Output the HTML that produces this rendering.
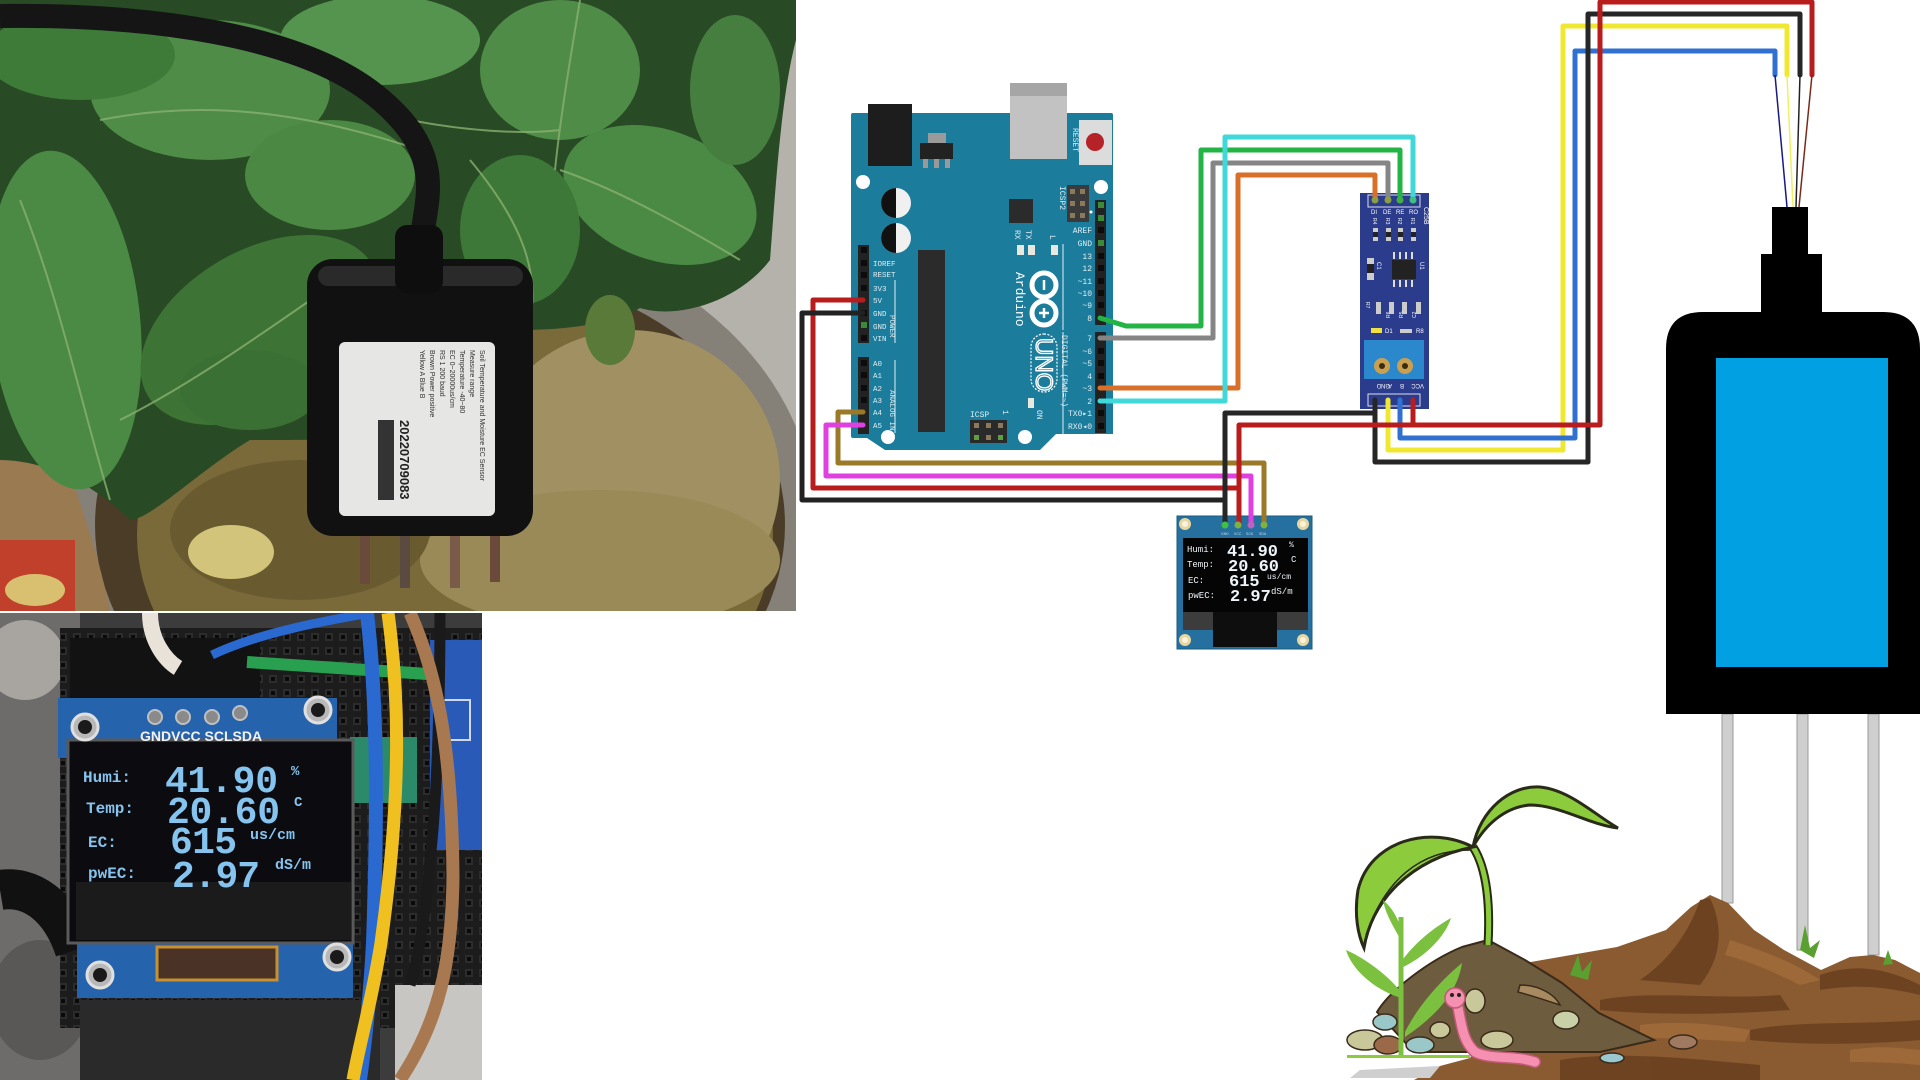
<!DOCTYPE html>
<html><head><meta charset="utf-8"><style>
html,body{margin:0;padding:0;background:#fff;}
body{width:1920px;height:1080px;overflow:hidden;}
svg{display:block;}
</style></head><body>
<svg width="1920" height="1080" viewBox="0 0 1920 1080" xmlns="http://www.w3.org/2000/svg">
<defs>
<clipPath id="c1"><rect x="0" y="0" width="796" height="611"/></clipPath>
<clipPath id="c2"><rect x="0" y="613" width="482" height="467"/></clipPath>
<pattern id="bb" x="0" y="0" width="14" height="14" patternUnits="userSpaceOnUse"><rect width="14" height="14" fill="#1c1c1c"/><rect x="3" y="3" width="8" height="8" fill="#2c2c2c"/><rect x="5" y="5" width="4" height="4" fill="#0a0a0a"/></pattern>
</defs>
<rect width="1920" height="1080" fill="#fff"/>

<!-- ============ TOP-LEFT PHOTO ============ -->
<g clip-path="url(#c1)">
<rect x="0" y="0" width="796" height="611" fill="#6a6450"/>
<rect x="700" y="40" width="96" height="571" fill="#b4b2aa"/>
<ellipse cx="430" cy="520" rx="385" ry="300" fill="#858078"/>
<ellipse cx="440" cy="525" rx="345" ry="262" fill="#4a3c26"/>
<ellipse cx="455" cy="535" rx="318" ry="235" fill="#7a6a3a"/>
<ellipse cx="630" cy="480" rx="150" ry="150" fill="#a09062"/>
<ellipse cx="600" cy="560" rx="180" ry="70" fill="#9a8a58"/>
<ellipse cx="300" cy="530" rx="130" ry="70" fill="#6a5a30"/>
<path d="M0,448 H60 C80,500 100,560 110,611 H0 Z" fill="#9a7a50"/>
<rect x="0" y="540" width="75" height="71" fill="#c0402c"/>
<ellipse cx="35" cy="590" rx="30" ry="16" fill="#d8c070"/>
<path d="M0,0 H796 V40 C780,100 775,200 770,260 C740,300 680,320 640,308 C600,330 540,330 508,330 L508,430 C400,440 300,440 250,440 C200,470 150,520 130,520 C90,480 40,460 0,460 Z" fill="#284a24"/>
<ellipse cx="65" cy="320" rx="75" ry="170" fill="#4a8a44" transform="rotate(-6 65 320)"/>
<ellipse cx="260" cy="330" rx="130" ry="80" fill="#3d7436" transform="rotate(-30 260 330)"/>
<ellipse cx="210" cy="90" rx="120" ry="70" fill="#4e8c48"/>
<ellipse cx="330" cy="175" rx="85" ry="55" fill="#4a8844"/>
<ellipse cx="380" cy="40" rx="100" ry="45" fill="#55944e"/>
<ellipse cx="560" cy="70" rx="80" ry="70" fill="#4e8c48"/>
<ellipse cx="660" cy="195" rx="100" ry="65" fill="#4a8a44" transform="rotate(20 660 195)"/>
<ellipse cx="80" cy="55" rx="95" ry="45" fill="#3e7a38"/>
<ellipse cx="520" cy="230" rx="60" ry="75" fill="#3d7838"/>
<ellipse cx="250" cy="390" rx="70" ry="40" fill="#3a7034"/>
<ellipse cx="735" cy="90" rx="45" ry="75" fill="#467e40"/>
<ellipse cx="610" cy="330" rx="25" ry="35" fill="#5a7a3a"/>
<g stroke="#8ab070" stroke-width="2" fill="none" opacity="0.8">
<path d="M20,200 C60,300 80,400 110,500"/><path d="M120,420 C200,380 280,320 340,280"/>
<path d="M100,120 C200,100 300,110 420,150"/><path d="M410,120 C460,130 520,135 560,130"/>
<path d="M470,160 C520,220 540,270 530,320"/><path d="M560,170 C620,190 690,230 740,260"/>
<path d="M580,0 C570,60 560,120 555,170"/>
</g>
<ellipse cx="231" cy="552" rx="43" ry="27" fill="#d2c47a"/>
<!-- prongs -->
<rect x="360" y="526" width="10" height="58" fill="#6a4a3a"/>
<rect x="400" y="526" width="10" height="62" fill="#5a4a40"/>
<rect x="450" y="526" width="10" height="62" fill="#7a5a48"/>
<rect x="490" y="526" width="10" height="56" fill="#6a4a3a"/>
<!-- sensor box -->
<rect x="307" y="259" width="226" height="277" rx="26" fill="#111"/>
<rect x="318" y="266" width="205" height="20" rx="10" fill="#2a2a2a"/>
<rect x="339" y="342" width="156" height="174" rx="6" fill="#e6e6e4"/>
<g font-family="Liberation Sans, sans-serif" font-size="7" fill="#333">
<text transform="translate(480,350) rotate(90)">Soil Temperature and Moisture EC Sensor</text>
<text transform="translate(470,350) rotate(90)">Measure range</text>
<text transform="translate(460,350) rotate(90)">Temperature -40~80</text>
<text transform="translate(450,350) rotate(90)">EC 0~20000us/cm</text>
<text transform="translate(440,350) rotate(90)">RS 1 200 baud</text>
<text transform="translate(430,350) rotate(90)">Brown Power positive</text>
<text transform="translate(420,350) rotate(90)">Yellow A Blue B</text>
</g>
<rect x="378" y="420" width="16" height="80" fill="#333"/>
<text transform="translate(400,420) rotate(90)" font-family="Liberation Sans, sans-serif" font-size="13" font-weight="bold" fill="#222">20220709083</text>
<!-- cable -->
<path d="M0,16 C150,14 300,35 375,95 S425,200 420,250" fill="none" stroke="#151515" stroke-width="24"/>
<rect x="395" y="225" width="48" height="68" rx="12" fill="#0e0e0e"/>
</g>

<!-- ============ BOTTOM-LEFT PHOTO ============ -->
<g clip-path="url(#c2)">
<rect x="0" y="613" width="482" height="467" fill="#3c3c3c"/>
<rect x="0" y="613" width="80" height="467" fill="#6e6c6a"/>
<ellipse cx="25" cy="660" rx="40" ry="40" fill="#a8a4a0"/>
<ellipse cx="40" cy="1000" rx="50" ry="60" fill="#5a5856"/>
<rect x="60" y="628" width="422" height="400" fill="url(#bb)"/>
<rect x="70" y="638" width="190" height="62" fill="#121212"/>
<rect x="395" y="985" width="87" height="95" fill="#c8c6c2"/>
<rect x="80" y="1000" width="300" height="80" fill="#2a2a2a"/>
<path d="M0,890 C30,885 60,905 75,950" fill="none" stroke="#111" stroke-width="40"/>
<path d="M150,613 C150,640 165,660 178,668" fill="none" stroke="#e8e2d8" stroke-width="16"/>
<path d="M212,655 C260,632 330,620 370,613" fill="none" stroke="#2a6ad0" stroke-width="9"/>
<path d="M247,662 C300,665 400,672 482,678" fill="none" stroke="#28a050" stroke-width="12"/>
<rect x="430" y="640" width="52" height="210" fill="#2a5ab8"/>
<rect x="440" y="700" width="30" height="40" fill="none" stroke="#cfd8f0" stroke-width="2"/>
<rect x="350" y="737" width="67" height="66" fill="#2a8a6a"/>
<!-- OLED board -->
<rect x="58" y="698" width="279" height="60" fill="#2563ad"/>
<rect x="77" y="930" width="276" height="68" fill="#2563ad"/>
<rect x="68" y="740" width="285" height="203" fill="#0c0c10" stroke="#5a5a5a" stroke-width="3"/>
<rect x="76" y="882" width="275" height="58" fill="#1b1b1b"/>
<rect x="157" y="947" width="120" height="33" fill="#4a3226" stroke="#c89030" stroke-width="3"/>
<g fill="#b8b8b8" stroke="#e0e0e0" stroke-width="3">
<circle cx="85" cy="727" r="13"/><circle cx="318" cy="710" r="13"/><circle cx="100" cy="975" r="13"/><circle cx="337" cy="957" r="13"/>
</g>
<g fill="#1a1a1a"><circle cx="85" cy="727" r="7"/><circle cx="318" cy="710" r="7"/><circle cx="100" cy="975" r="7"/><circle cx="337" cy="957" r="7"/></g>
<g fill="#8a8a8a" stroke="#c0c0c0" stroke-width="2"><circle cx="155" cy="717" r="7"/><circle cx="183" cy="717" r="7"/><circle cx="212" cy="717" r="7"/><circle cx="240" cy="713" r="7"/></g>
<text x="140" y="741" font-family="Liberation Sans, sans-serif" font-size="14" font-weight="bold" fill="#f2f2f2">GNDVCC SCLSDA</text>
<g font-family="Liberation Mono, monospace" font-weight="bold" fill="#86c4f0">
<text x="83" y="782" font-size="16">Humi:</text>
<text x="165" y="792" font-size="38" textLength="113">41.90</text>
<text x="291" y="775" font-size="14">%</text>
<text x="86" y="813" font-size="16">Temp:</text>
<text x="167" y="823" font-size="38" textLength="113">20.60</text>
<text x="294" y="806" font-size="14">C</text>
<text x="88" y="847" font-size="16">EC:</text>
<text x="170" y="853" font-size="38" textLength="67">615</text>
<text x="250" y="839" font-size="15">us/cm</text>
<text x="88" y="878" font-size="16">pwEC:</text>
<text x="172" y="887" font-size="38" textLength="88">2.97</text>
<text x="275" y="869" font-size="15">dS/m</text>
</g>
<path d="M367,613 C377,700 378,800 373,943 C370,1000 364,1050 360,1080" fill="none" stroke="#2a6ad0" stroke-width="14"/>
<path d="M388,613 C400,700 401,800 381,943 C372,1000 358,1050 353,1080" fill="none" stroke="#f0c020" stroke-width="13"/>
<path d="M440,613 C440,700 437,800 430,860 C425,920 418,960 410,985" fill="none" stroke="#1a1a1a" stroke-width="11"/>
<path d="M410,613 C440,680 452,760 453,877 C452,960 440,1020 400,1080" fill="none" stroke="#a87850" stroke-width="13"/>
</g>

<!-- ============ ARDUINO UNO ============ -->
<g>
<rect x="1004" y="126" width="69" height="8" fill="#b4b4b4"/>
<path d="M853,113 H1111 Q1113,113 1113,115 V434 H1056 L1040,450 H885 L867,438 H853 Q851,438 851,436 V115 Q851,113 853,113 Z" fill="#1c7c9c"/>
<rect x="868" y="104" width="44" height="62" fill="#1d1d1d"/>
<rect x="1010" y="83" width="57" height="76" fill="#c2c2c2"/>
<rect x="1010" y="83" width="57" height="13" fill="#a6a6a6"/>
<rect x="928" y="133" width="18" height="10" fill="#9a9a9a"/>
<rect x="920" y="143" width="33" height="16" fill="#222"/>
<rect x="923" y="159" width="5" height="9" fill="#999"/><rect x="934" y="159" width="5" height="9" fill="#999"/><rect x="945" y="159" width="5" height="9" fill="#999"/>
<rect x="1079" y="120" width="33" height="45" fill="#dcdcdc"/>
<circle cx="1095" cy="142" r="9" fill="#b52228"/>
<text transform="translate(1073,128) rotate(90)" font-family="Liberation Mono, monospace" font-size="8" fill="#e0eef2">RESET</text>
<g fill="#fff"><circle cx="863" cy="182" r="7"/><circle cx="1101" cy="187" r="7"/><circle cx="888" cy="437" r="7"/><circle cx="1025" cy="437" r="7"/></g>
<circle cx="896" cy="203" r="15" fill="#f0f0f0"/><path d="M896,188 A15,15 0 0,0 896,218 Z" fill="#111"/>
<circle cx="896" cy="238" r="15" fill="#f0f0f0"/><path d="M896,223 A15,15 0 0,0 896,253 Z" fill="#111"/>
<rect x="918" y="250" width="27" height="182" fill="#2b2b2b"/>
<rect x="1009" y="199" width="24" height="24" fill="#2b2b2b"/>
<rect x="1067" y="185" width="22" height="37" fill="#3a3a3a"/>
<g fill="#8a7a5a"><rect x="1070" y="189" width="5" height="5"/><rect x="1080" y="189" width="5" height="5"/><rect x="1070" y="201" width="5" height="5"/><rect x="1080" y="201" width="5" height="5"/><rect x="1070" y="213" width="5" height="5"/><rect x="1080" y="213" width="5" height="5"/></g>
<text transform="translate(1060,186) rotate(90)" font-family="Liberation Mono, monospace" font-size="8" fill="#e0eef2">ICSP2</text>
<rect x="1017" y="245" width="7" height="10" fill="#e8e8e0"/><rect x="1028" y="245" width="7" height="10" fill="#e8e8e0"/><rect x="1051" y="245" width="7" height="10" fill="#e8e8e0"/>
<g font-family="Liberation Mono, monospace" font-size="8" fill="#e0eef2">
<text transform="translate(1015,230) rotate(90)">RX</text>
<text transform="translate(1026,230) rotate(90)">TX</text>
<text transform="translate(1050,235) rotate(90)">L</text>
</g>
<line x1="1063" y1="244" x2="1063" y2="330" stroke="#e0eef2" stroke-width="1"/>
<circle cx="1044" cy="285" r="12" fill="none" stroke="#fff" stroke-width="5"/>
<circle cx="1044" cy="313" r="12" fill="none" stroke="#fff" stroke-width="5"/>
<line x1="1044" y1="280" x2="1044" y2="290" stroke="#fff" stroke-width="2.5"/>
<line x1="1039" y1="313" x2="1049" y2="313" stroke="#fff" stroke-width="2.5"/><line x1="1044" y1="308" x2="1044" y2="318" stroke="#fff" stroke-width="2.5"/>
<text transform="translate(1016,272) rotate(90)" font-family="Liberation Mono, monospace" font-size="13" fill="#fff">Arduino</text>
<rect x="1031" y="334" width="26" height="58" rx="13" fill="none" stroke="#fff" stroke-width="1.2" stroke-dasharray="2 1.5"/>
<text transform="translate(1036,338) rotate(90)" font-family="Liberation Sans, sans-serif" font-size="24" fill="none" stroke="#fff" stroke-width="1.4">UNO</text>
<text transform="translate(1062,335) rotate(90)" font-family="Liberation Mono, monospace" font-size="8" fill="#e0eef2">DIGITAL (PWM=~)</text>
<line x1="1063" y1="332" x2="1063" y2="435" stroke="#e0eef2" stroke-width="1"/>
<rect x="1028" y="398" width="6" height="10" fill="#e8e8e0"/>
<text transform="translate(1037,410) rotate(90)" font-family="Liberation Mono, monospace" font-size="8" fill="#e0eef2">ON</text>
<rect x="970" y="420" width="37" height="23" fill="#2a2a2a"/>
<g fill="#8a7a5a"><rect x="974" y="423" width="5" height="5"/><rect x="986" y="423" width="5" height="5"/><rect x="998" y="423" width="5" height="5"/><rect x="986" y="435" width="5" height="5"/></g>
<g fill="#5aa040"><rect x="974" y="435" width="5" height="5"/><rect x="998" y="435" width="5" height="5"/></g>
<text x="970" y="417" font-family="Liberation Mono, monospace" font-size="8" fill="#e0eef2">ICSP</text>
<text transform="translate(1003,410) rotate(90)" font-family="Liberation Mono, monospace" font-size="8" fill="#e0eef2">1</text>
<!-- left headers -->
<rect x="858" y="245" width="11" height="98" fill="#222"/>
<rect x="858" y="357" width="11" height="77" fill="#222"/>
<g fill="#0c0c0c">
<rect x="861" y="247" width="6" height="6"/><rect x="861" y="260" width="6" height="6"/><rect x="861" y="272" width="6" height="6"/><rect x="861" y="285" width="6" height="6"/><rect x="861" y="310" width="6" height="6"/><rect x="861" y="335" width="6" height="6"/>
<rect x="861" y="360" width="6" height="6"/><rect x="861" y="372" width="6" height="6"/><rect x="861" y="385" width="6" height="6"/><rect x="861" y="397" width="6" height="6"/>
</g>
<rect x="861" y="322" width="6" height="6" fill="#3a8a3a"/>
<g font-family="Liberation Mono, monospace" font-size="7.5" fill="#e0eef2">
<text x="873" y="266">IOREF</text><text x="873" y="277">RESET</text><text x="873" y="291">3V3</text><text x="873" y="303">5V</text><text x="873" y="316">GND</text><text x="873" y="329">GND</text><text x="873" y="341">VIN</text>
<text x="873" y="366">A0</text><text x="873" y="378">A1</text><text x="873" y="391">A2</text><text x="873" y="403">A3</text><text x="873" y="415">A4</text><text x="873" y="428">A5</text>
<text transform="translate(890,315) rotate(90)">POWER</text>
<text transform="translate(890,390) rotate(90)">ANALOG IN</text>
</g>
<line x1="895" y1="280" x2="895" y2="343" stroke="#e0eef2" stroke-width="1"/>
<line x1="895" y1="360" x2="895" y2="433" stroke="#e0eef2" stroke-width="1"/>
<!-- right headers -->
<rect x="1095" y="200" width="11" height="125" fill="#222"/>
<rect x="1095" y="332" width="11" height="101" fill="#222"/>
<g fill="#0c0c0c">
<rect x="1098" y="227" width="6" height="6"/><rect x="1098" y="253" width="6" height="6"/><rect x="1098" y="265" width="6" height="6"/><rect x="1098" y="278" width="6" height="6"/><rect x="1098" y="290" width="6" height="6"/><rect x="1098" y="302" width="6" height="6"/>
<rect x="1098" y="348" width="6" height="6"/><rect x="1098" y="360" width="6" height="6"/><rect x="1098" y="373" width="6" height="6"/><rect x="1098" y="410" width="6" height="6"/><rect x="1098" y="423" width="6" height="6"/>
</g>
<g fill="#3a8a3a"><rect x="1098" y="202" width="6" height="6"/><rect x="1098" y="215" width="6" height="6"/><rect x="1098" y="240" width="6" height="6"/></g>
<circle cx="1091" cy="212" r="1.5" fill="#fff"/>
<g font-family="Liberation Mono, monospace" font-size="8" fill="#e0eef2" text-anchor="end">
<text x="1092" y="233">AREF</text><text x="1092" y="246">GND</text><text x="1092" y="259">13</text><text x="1092" y="271">12</text><text x="1092" y="284">~11</text><text x="1092" y="296">~10</text><text x="1092" y="308">~9</text><text x="1092" y="321">8</text>
<text x="1092" y="341">7</text><text x="1092" y="354">~6</text><text x="1092" y="366">~5</text><text x="1092" y="379">4</text><text x="1092" y="391">~3</text><text x="1092" y="404">2</text><text x="1092" y="416">TX0▸1</text><text x="1092" y="429">RX0◂0</text>
</g>
</g>

<!-- ============ RS485 MODULE ============ -->
<g>
<rect x="1360" y="193" width="69" height="216" fill="#2b3c8c"/>
<rect x="1368" y="195" width="52" height="12" fill="none" stroke="#dde" stroke-width="1"/>
<rect x="1368" y="394" width="52" height="12" fill="none" stroke="#dde" stroke-width="1"/>
<g font-family="Liberation Sans, sans-serif" font-size="6" fill="#fff">
<text x="1371" y="214">DI</text><text x="1383" y="214">DE</text><text x="1396" y="214">RE</text><text x="1409" y="214">RO</text>
<text transform="translate(1424,207) rotate(90)" font-size="7">C25B</text>
<text transform="translate(1373,218) rotate(90)" font-size="5">R4</text><text transform="translate(1386,218) rotate(90)" font-size="5">R3</text><text transform="translate(1398,218) rotate(90)" font-size="5">R2</text><text transform="translate(1411,218) rotate(90)" font-size="5">R1</text>
<text transform="translate(1377,262) rotate(90)" font-size="6">C1</text>
<text transform="translate(1420,262) rotate(90)" font-size="6">U1</text>
<text transform="translate(1366,302) rotate(90)" font-size="5">R7</text>
<text transform="translate(1390,318) rotate(-90)" font-size="5">R6</text><text transform="translate(1403,318) rotate(-90)" font-size="5">R5</text><text transform="translate(1416,318) rotate(-90)" font-size="5">C2</text>
<text x="1385" y="333" font-size="6">D1</text><text x="1416" y="333" font-size="6">R8</text>
<text transform="translate(1390,384) rotate(180)" font-size="6">GND</text><text transform="translate(1392,384) rotate(180)" font-size="6">A</text><text transform="translate(1404,384) rotate(180)" font-size="6">B</text><text transform="translate(1424,384) rotate(180)" font-size="6">VCC</text>
</g>
<g fill="#ccc"><rect x="1373" y="228" width="5" height="13"/><rect x="1386" y="228" width="5" height="13"/><rect x="1398" y="228" width="5" height="13"/><rect x="1411" y="228" width="5" height="13"/>
<rect x="1376" y="302" width="5" height="12"/><rect x="1389" y="302" width="5" height="12"/><rect x="1402" y="302" width="5" height="12"/><rect x="1416" y="302" width="5" height="12"/>
<rect x="1367" y="258" width="7" height="22"/><rect x="1400" y="329" width="12" height="4"/></g>
<g fill="#222"><rect x="1373" y="232" width="5" height="5"/><rect x="1386" y="232" width="5" height="5"/><rect x="1398" y="232" width="5" height="5"/><rect x="1411" y="232" width="5" height="5"/><rect x="1367" y="264" width="7" height="9"/></g>
<rect x="1392" y="260" width="24" height="19" fill="#222"/>
<g fill="#ddd"><rect x="1393" y="252" width="2" height="7"/><rect x="1399" y="252" width="2" height="7"/><rect x="1405" y="252" width="2" height="7"/><rect x="1411" y="252" width="2" height="7"/><rect x="1393" y="280" width="2" height="7"/><rect x="1399" y="280" width="2" height="7"/><rect x="1405" y="280" width="2" height="7"/><rect x="1411" y="280" width="2" height="7"/></g>
<rect x="1371" y="328" width="11" height="5" fill="#f0e040"/>
<rect x="1364" y="340" width="60" height="39" fill="#2b88cc"/>
<circle cx="1382" cy="366" r="8" fill="#c8a050"/><circle cx="1405" cy="366" r="8" fill="#c8a050"/>
<circle cx="1382" cy="366" r="3" fill="#3a2a10"/><circle cx="1405" cy="366" r="3" fill="#3a2a10"/>
</g>

<!-- ============ OLED (diagram) ============ -->
<g>
<rect x="1177" y="516" width="135" height="133" fill="#2670a0" stroke="#1a5a80" stroke-width="1"/>
<rect x="1183" y="538" width="125" height="74" fill="#050505"/>
<rect x="1183" y="612" width="125" height="18" fill="#3c3c3c"/>
<rect x="1213" y="612" width="64" height="35" fill="#0e0e0e"/>
<g fill="#e8d6a0"><circle cx="1185" cy="524" r="6"/><circle cx="1303" cy="524" r="6"/><circle cx="1185" cy="640" r="6"/><circle cx="1303" cy="640" r="6"/></g>
<g fill="#faf2dc"><circle cx="1185" cy="524" r="3"/><circle cx="1303" cy="524" r="3"/><circle cx="1185" cy="640" r="3"/><circle cx="1303" cy="640" r="3"/></g>
<g font-family="Liberation Sans, sans-serif" font-size="3.5" fill="#cde"><text x="1221" y="535">GND</text><text x="1234" y="535">VCC</text><text x="1246" y="535">SCK</text><text x="1259" y="535">SDA</text></g>
<g font-family="Liberation Mono, monospace" fill="#eef4fa">
<text x="1187" y="552" font-size="9">Humi:</text>
<text x="1227" y="556" font-size="17" font-weight="bold">41.90</text>
<text x="1289" y="547" font-size="8">%</text>
<text x="1187" y="567" font-size="9">Temp:</text>
<text x="1228" y="571" font-size="17" font-weight="bold">20.60</text>
<text x="1291" y="562" font-size="9">C</text>
<text x="1188" y="583" font-size="9">EC:</text>
<text x="1229" y="586" font-size="17" font-weight="bold">615</text>
<text x="1267" y="579" font-size="8">us/cm</text>
<text x="1188" y="598" font-size="9">pwEC:</text>
<text x="1230" y="601" font-size="17" font-weight="bold">2.97</text>
<text x="1271" y="594" font-size="9">dS/m</text>
</g>
</g>

<!-- ============ WIRES ============ -->
<g fill="none" stroke-linejoin="round" stroke-linecap="round" stroke-width="5">
<path d="M863,412 H838 V463 H1264 V525" stroke="#9a7a28"/>
<path d="M863,425 H826 V476 H1251 V525" stroke="#e040e0"/>
<path d="M863,300 H813 V488 H1239" stroke="#b81c1c"/>
<path d="M863,313 H802 V500 H1225" stroke="#222"/>
<path d="M1100,318 L1126,326 H1201 V150 H1400 V200" stroke="#22b444"/>
<path d="M1100,338 H1213 V163 H1388 V200" stroke="#858585"/>
<path d="M1100,388 H1238 V175 H1375 V200" stroke="#d8702a"/>
<path d="M1100,401 H1225 V137 H1413 V200" stroke="#40d8d8"/>
<path d="M1388,400 V450 H1563 V26 H1787 V75" stroke="#f0e830"/>
<path d="M1400,400 V438 H1575 V51 H1775 V75" stroke="#3070d0"/>
<path d="M1225,525 V413 H1375 V400 M1375,413 V462 H1588 V14 H1800 V75" stroke="#262626"/>
<path d="M1239,525 V425 H1600 V2 H1812 V75 M1413,400 V425" stroke="#b81c1c"/>
</g>
<g>
<circle cx="1375" cy="200" r="3.5" fill="#8aa040"/><circle cx="1388" cy="200" r="3.5" fill="#8aa040"/><circle cx="1400" cy="200" r="3.5" fill="#40b040"/><circle cx="1413" cy="200" r="3.5" fill="#40c080"/>
<circle cx="1225" cy="525" r="3.5" fill="#40c040"/><circle cx="1238" cy="525" r="3.5" fill="#80b040"/><circle cx="1251" cy="525" r="3.5" fill="#c060c0"/><circle cx="1264" cy="525" r="3.5" fill="#80b040"/>
</g>
<g fill="none" stroke-width="1.5">
<path d="M1775,75 L1787,207" stroke="#1a1a80"/>
<path d="M1787,75 L1793,207" stroke="#f0f060"/>
<path d="M1800,75 L1796,207" stroke="#222"/>
<path d="M1812,75 L1799,207" stroke="#7a2a1a"/>
</g>

<!-- ============ SENSOR ============ -->
<rect x="1722" y="714" width="11" height="189" fill="#cfcfcf" stroke="#9a9a9a" stroke-width="1"/>
<rect x="1797" y="714" width="11" height="236" fill="#cfcfcf" stroke="#9a9a9a" stroke-width="1"/>
<rect x="1868" y="714" width="11" height="241" fill="#cfcfcf" stroke="#9a9a9a" stroke-width="1"/>
<rect x="1772" y="207" width="36" height="48" fill="#000"/>
<rect x="1761" y="254" width="61" height="60" fill="#000"/>
<path d="M1666,714 V349 Q1666,312 1703,312 H1883 Q1920,312 1920,349 V714 Z" fill="#000"/>
<rect x="1716" y="358" width="172" height="309" fill="#00a0e2"/>

<!-- ============ PLANT / SOIL ============ -->
<path d="M1414,1080 L1440,1066 L1470,1058 L1525,963 L1617,947 L1666,930 L1691,907 L1710,895 L1728,903 L1754,930 L1784,950 L1821,970 L1850,957 L1873,955 L1895,960 L1920,973 V1080 Z" fill="#8a5a30"/>
<g fill="#6a4020" opacity="0.9">
<path d="M1700,900 C1690,930 1670,960 1640,980 L1700,985 C1720,960 1725,930 1710,898 Z"/>
<path d="M1600,1000 C1650,990 1720,1000 1780,995 L1790,1010 C1720,1015 1650,1015 1600,1010 Z"/>
<path d="M1750,1030 C1800,1020 1870,1025 1920,1020 V1040 C1860,1045 1800,1045 1750,1040 Z"/>
<path d="M1820,975 C1850,965 1880,965 1920,985 V995 C1880,985 1850,985 1820,990 Z"/>
<path d="M1560,1060 C1620,1050 1700,1060 1760,1065 L1760,1080 H1560 Z"/>
</g>
<g fill="#a06a3a" opacity="0.9">
<path d="M1730,940 C1760,950 1790,960 1820,980 L1800,985 C1770,970 1745,960 1725,955 Z"/>
<path d="M1640,1025 C1680,1020 1720,1025 1750,1030 L1745,1042 C1710,1040 1680,1038 1640,1038 Z"/>
<path d="M1850,1050 C1880,1045 1900,1048 1920,1050 V1065 C1900,1063 1880,1062 1850,1062 Z"/>
</g>
<g fill="#5aa030"><path d="M1570,975 L1578,955 L1582,972 L1592,960 L1588,980 Z"/><path d="M1800,950 L1805,925 L1810,948 L1820,940 L1814,958 Z"/><path d="M1883,965 L1888,950 L1893,964 Z"/></g>
<path d="M1377,1012 C1390,990 1430,960 1462,947 L1488,940 L1525,960 L1562,983 L1599,1013 L1654,1040 L1600,1052 L1414,1052 Z" fill="#6e5c3e" stroke="#3a2a1a" stroke-width="2"/>
<path d="M1520,985 C1540,985 1555,995 1560,1005 C1545,1000 1530,995 1518,992 Z" fill="#a88a60" stroke="#3a2a1a" stroke-width="1.5"/>
<g stroke="#3a2a1a" stroke-width="1.5">
<ellipse cx="1365" cy="1040" rx="18" ry="10" fill="#c8c89a"/>
<ellipse cx="1385" cy="1022" rx="12" ry="8" fill="#9ac8c8"/>
<ellipse cx="1388" cy="1045" rx="14" ry="9" fill="#9a6a48"/>
<ellipse cx="1420" cy="1045" rx="14" ry="8" fill="#9ac8c8"/>
<ellipse cx="1440" cy="1030" rx="10" ry="8" fill="#c8c89a"/>
<ellipse cx="1475" cy="1001" rx="10" ry="12" fill="#c8c89a"/>
<ellipse cx="1566" cy="1020" rx="13" ry="9" fill="#c8d0a8"/>
<ellipse cx="1683" cy="1042" rx="14" ry="7" fill="#a07a60"/>
<ellipse cx="1612" cy="1058" rx="12" ry="5" fill="#9ac8d0"/>
<ellipse cx="1497" cy="1040" rx="16" ry="9" fill="#c8c89a"/>
</g>
<rect x="1347" y="1055" width="123" height="3" fill="#8ccc3c"/>
<path d="M1360,1070 L1440,1066 L1430,1078 L1350,1078 Z" fill="#cfcfcf"/>
<!-- big seedling -->
<path d="M1473,847 C1488,870 1490,910 1488,945" fill="none" stroke="#2a2a18" stroke-width="9"/>
<path d="M1473,847 C1488,870 1490,910 1488,945" fill="none" stroke="#8ccc3c" stroke-width="5"/>
<path d="M1473,847 C1430,825 1370,840 1358,890 C1354,915 1358,935 1364,948 C1372,900 1410,860 1473,847 Z" fill="#8ccc3c" stroke="#2a2a18" stroke-width="3"/>
<path d="M1473,847 C1480,810 1510,785 1540,787 C1570,790 1595,815 1618,828 C1590,825 1560,805 1530,805 C1505,807 1485,825 1473,847 Z" fill="#8ccc3c" stroke="#2a2a18" stroke-width="3"/>
<path d="M1470,850 C1420,850 1385,880 1366,935" fill="none" stroke="#2a2a18" stroke-width="1.5"/>
<!-- small plant -->
<path d="M1401,1055 V917" stroke="#7cc040" stroke-width="5"/>
<path d="M1401,992 C1385,972 1362,957 1346,950 C1352,970 1375,990 1401,998 Z" fill="#7cc040"/>
<path d="M1401,962 C1415,942 1435,927 1451,918 C1445,937 1425,957 1401,968 Z" fill="#7cc040"/>
<path d="M1405,1032 C1420,1002 1445,977 1462,963 C1458,992 1435,1017 1405,1037 Z" fill="#7cc040"/>
<path d="M1401,940 C1392,925 1385,912 1383,900 C1395,910 1401,925 1403,938 Z" fill="#7cc040"/>
<!-- worm -->
<path d="M1457,1003 C1462,1025 1462,1040 1475,1052 C1490,1060 1515,1055 1535,1062" fill="none" stroke="#c05a78" stroke-width="12" stroke-linecap="round"/>
<path d="M1457,1003 C1462,1025 1462,1040 1475,1052 C1490,1060 1515,1055 1535,1062" fill="none" stroke="#f590b0" stroke-width="9" stroke-linecap="round"/>
<circle cx="1455" cy="998" r="10" fill="#f590b0" stroke="#c05a78" stroke-width="1.5"/>
<circle cx="1452" cy="995" r="2" fill="#222"/><circle cx="1459" cy="995" r="2" fill="#222"/>
</svg>
</body></html>
